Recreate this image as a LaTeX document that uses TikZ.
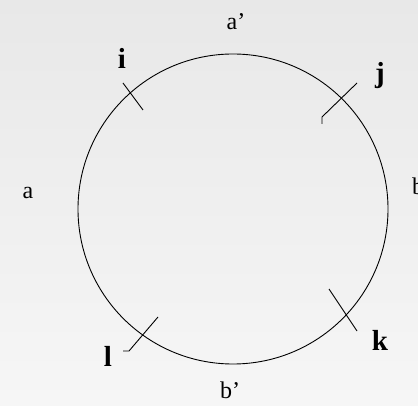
\documentclass[tikz,border=0pt]{standalone}
\usepackage{fontspec}
\setmainfont{Liberation Serif}
\begin{document}
\begin{tikzpicture}[x=1pt,y=-1pt,
  lbl/.style={font=\fontsize{24}{26}\selectfont, inner sep=0pt},
  blbl/.style={font=\bfseries\fontsize{29}{31}\selectfont, inner sep=0pt},
  tickline/.style={line width=0.9pt}]
\shade[top color=gray!18, bottom color=gray!7] (0,0) rectangle (418,406);
\useasboundingbox (0,0) rectangle (418,406);
\node[draw, circle, minimum size=310pt, line width=0.9pt, inner sep=0pt] (c) at (233,209) {};
% ticks
\coordinate (i1) at (123,83); \coordinate (i2) at (143,110);
\coordinate (j1) at (357,83); \coordinate (j2) at (322,117); \coordinate (j3) at (322,124);
\coordinate (k1) at (329,289); \coordinate (k2) at (357,331);
\coordinate (l1) at (158,317); \coordinate (l2) at (129,351); \coordinate (l3) at (123,351);
\draw[tickline] (i1) -- (i2);
\draw[tickline] (j1) -- (j2) -- (j3);
\draw[tickline] (k1) -- (k2);
\draw[tickline] (l1) -- (l2) -- (l3);
% labels
\node[blbl] (ti) at (122,58) {i};
\node[blbl] (tj) at (380,76) {j};
\node[blbl] (tk) at (380,340) {k};
\node[blbl] (tl) at (108,356) {l};
\node[lbl] (ta) at (28,193) {a};
\node[lbl] (tap) at (236,22) {a’};
\node[lbl] (tb) at (418,186) {b};
\node[lbl] (tbp) at (230,390) {b’};
\end{tikzpicture}
\end{document}
